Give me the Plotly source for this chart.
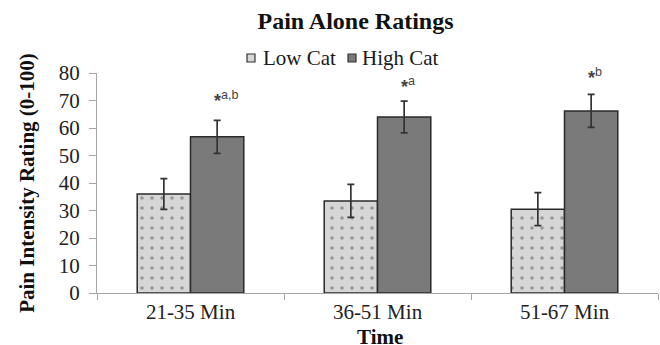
import plotly.graph_objects as go

categories = ["21-35 Min", "36-51 Min", "51-67 Min"]
low_cat = [36, 33.5, 30.5]
low_err = [5.6, 6, 6]
high_cat = [56.8, 64, 66.2]
high_err = [6, 5.8, 6]
sig_labels = ["a,b", "a", "b"]
sig_y = [70.2, 75.4, 78.7]
series_names = ["Low Cat", "High Cat"]
x_title = "Time"

serif = "Liberation Serif, Times New Roman, serif"
low_color = "#d6d6d6"
high_color = "#7a7a7a"
edge = "#2a2a2a"

# plot area geometry (pixels)
L, R, T, B, W, H = 97, 2, 73, 52, 660, 345
pw, ph = W - L - R, H - T - B

def px_x(p):
    return (p - L) / pw

def px_y(p):
    return (H - B - p) / ph

fig = go.Figure()
fig.add_trace(go.Bar(
    name=series_names[0], x=categories, y=low_cat, showlegend=False,
    error_y=dict(type="data", array=low_err, color="#333333", thickness=1.7, width=3.5),
    marker=dict(color=low_color, line=dict(color=edge, width=1.5),
                pattern=dict(shape=".", fgcolor="#555555", bgcolor=low_color, size=10, solidity=0.1)),
))
fig.add_trace(go.Bar(
    name=series_names[1], x=categories, y=high_cat, showlegend=False,
    error_y=dict(type="data", array=high_err, color="#333333", thickness=1.7, width=3.5),
    marker=dict(color=high_color, line=dict(color=edge, width=1.5)),
))

for c, t, yv in zip(categories, sig_labels, sig_y):
    fig.add_annotation(x=c, y=yv, text="<b>*</b><sup>" + t + "</sup>", showarrow=False,
                       xshift=21, xanchor="left", yanchor="middle",
                       font=dict(family="Liberation Sans, Arial", size=18, color="#444444"),
                       xref="x", yref="y")

# compact legend (swatches + labels)
legend_items = [(series_names[0], low_color, 247, 263), (series_names[1], high_color, 348, 362)]
for name, col, sx, tx in legend_items:
    fig.add_shape(type="rect", xref="paper", yref="paper",
                  x0=px_x(sx), x1=px_x(sx + 8), y0=px_y(62), y1=px_y(54),
                  fillcolor=col, line=dict(color="#333333", width=1.2))
    fig.add_annotation(xref="paper", yref="paper", x=px_x(tx - 2), y=px_y(58),
                       text=name, showarrow=False, xanchor="left", yanchor="middle",
                       font=dict(family=serif, size=21, color="#1a1a1a"))

# x-axis title placed as text below the tick labels
fig.add_annotation(xref="paper", yref="paper", x=px_x(380), y=px_y(337),
                   text="<b>" + x_title + "</b>", showarrow=False,
                   xanchor="center", yanchor="middle",
                   font=dict(family=serif, size=21, color="#111111"))

fig.update_layout(
    width=W, height=H,
    margin=dict(l=L, r=R, t=T, b=B, autoexpand=False),
    paper_bgcolor="white", plot_bgcolor="white",
    barmode="group", bargap=0.43, bargroupgap=0,
    font=dict(family=serif, size=21, color="#222222"),
    title=dict(text="<b>Pain Alone Ratings</b>", x=355.5 / W, xanchor="center",
               y=1 - 21 / H, yanchor="middle",
               font=dict(family=serif, size=24, color="#111111")),
    showlegend=False,
)
fig.update_xaxes(
    showline=True, linecolor="#a6a6a6", linewidth=1.2, automargin=False,
    ticks="outside", tickson="boundaries", ticklen=6, tickcolor="#a6a6a6",
    tickfont=dict(family=serif, size=21, color="#222222"), ticklabelstandoff=0,
    showgrid=False,
)
fig.update_yaxes(
    range=[0, 80], dtick=10, showline=True, linecolor="#a6a6a6", linewidth=1.2, automargin=False,
    ticks="outside", ticklen=7, tickcolor="#a6a6a6", showgrid=False, zeroline=False,
    tickfont=dict(family=serif, size=21, color="#222222"), ticklabelstandoff=5,
    title=dict(text="<b>Pain Intensity Rating (0-100)</b>", standoff=18,
               font=dict(family=serif, size=21, color="#111111")),
)

fig.write_html("out.html", config={"displayModeBar": False},
               post_script="document.body.style.margin='0';document.body.style.overflow='hidden';")
